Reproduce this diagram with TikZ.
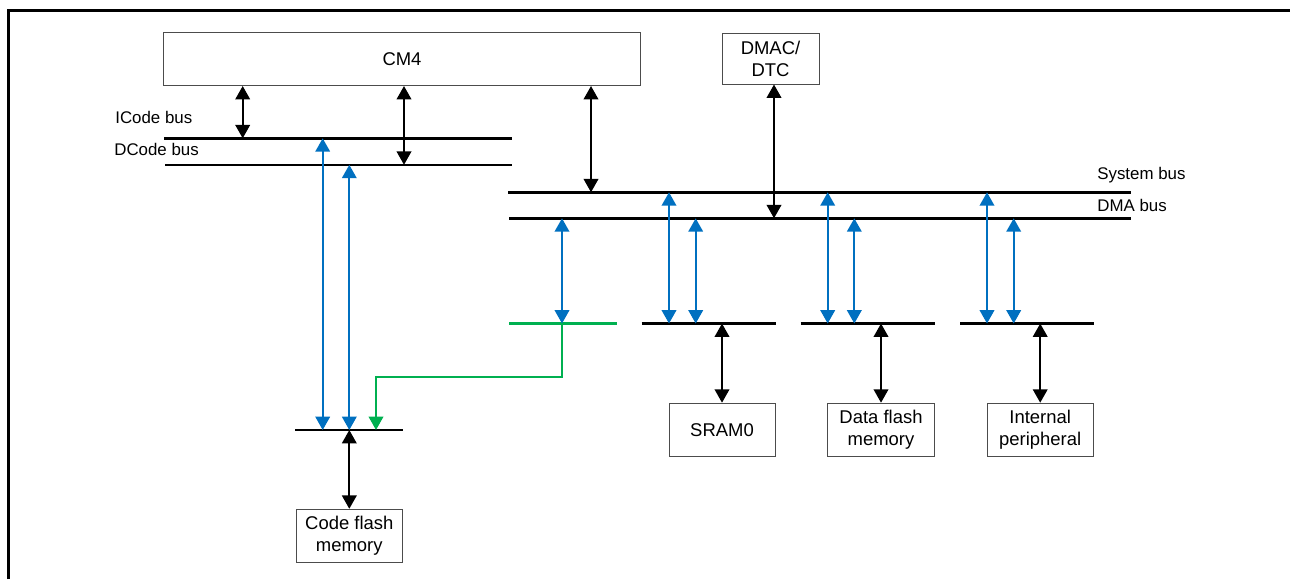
\documentclass[tikz,border=0pt]{standalone}
\usepackage{fontspec}
\setmainfont{Liberation Sans}
\usepackage{xcolor}
\usepackage{tikz}
\usetikzlibrary{arrows.meta, positioning}

\definecolor{busblue}{RGB}{0,112,192}
\definecolor{busgreen}{RGB}{0,176,80}

\begin{document}
\begin{tikzpicture}[
  x=0.02cm, y=-0.02cm,
  unit/.style={
    draw=black!70,
    fill=white,
    line width=0.55pt,
    align=center,
    inner sep=0pt,
    font=\fontsize{10.5}{12.6}\selectfont
  },
  buslabel/.style={
    anchor=west,
    inner sep=0pt,
    font=\fontsize{9.6}{11.5}\selectfont
  },
  bus/.style={line width=1.4pt},
  greenbus/.style={line width=1.4pt, draw=busgreen},
  link/.style={
    line width=1.3pt,
    {Triangle[length=7.6pt,width=8.2pt]}-{Triangle[length=7.6pt,width=8.2pt]}
  },
  bluelink/.style={link, draw=busblue},
  greenlink/.style={
    line width=1.3pt, draw=busgreen,
    -{Triangle[length=7.6pt,width=8.2pt]}
  }
]

\useasboundingbox (0,0) rectangle (1290,579);

% Frame
\draw[line width=1.7pt] (8.7,579) -- (8.7,10.8) -- (1290,10.8);

% -------------------------------------------------------------------
% Masters
% -------------------------------------------------------------------
\node[unit, minimum width=9.56cm, minimum height=1.06cm] (cm4) at (402,59) {CM4};
\node[unit, minimum width=1.94cm, minimum height=1.02cm] (dmac) at (770.5,58.5) {DMAC/\\DTC};

% -------------------------------------------------------------------
% Buses
% -------------------------------------------------------------------
\coordinate (icL) at (164,138.3);  \coordinate (icR) at (512,138.3);
\coordinate (dcL) at (165,164.8);  \coordinate (dcR) at (512,164.8);
\coordinate (sysL) at (508,192.3); \coordinate (sysR) at (1131,192.3);
\coordinate (dmaL) at (509,218.3); \coordinate (dmaR) at (1131,218.3);
\coordinate (cfL) at (295,430);    \coordinate (cfR) at (403,430);
\coordinate (grL) at (509,323.5);  \coordinate (grR) at (617,323.5);
\coordinate (srL) at (641.5,323.5); \coordinate (srR) at (775.5,323.5);
\coordinate (dfL) at (800.5,323.5); \coordinate (dfR) at (935,323.5);
\coordinate (peL) at (960,323.5);  \coordinate (peR) at (1094,323.5);

\draw[bus] (icL) -- (icR);
\draw[bus] (dcL) -- (dcR);
\draw[bus] (sysL) -- (sysR);
\draw[bus] (dmaL) -- (dmaR);
\draw[bus] (cfL) -- (cfR);
\draw[greenbus] (grL) -- (grR);
\draw[bus] (srL) -- (srR);
\draw[bus] (dfL) -- (dfR);
\draw[bus] (peL) -- (peR);

\node[buslabel] (iclabel) at (115,117.5) {ICode bus};
\node[buslabel] (dclabel) at (114,149) {DCode bus};
\node[buslabel] (syslabel) at (1097,175) {System bus};
\node[buslabel] (dmalabel) at (1097,205.5) {DMA bus};

% -------------------------------------------------------------------
% Slaves
% -------------------------------------------------------------------
\node[unit, minimum width=2.12cm, minimum height=1.06cm] (cflash) at (349.3,535.8) {Code flash\\memory};
\node[unit, minimum width=2.12cm, minimum height=1.06cm] (sram) at (722,429.7) {SRAM0};
\node[unit, minimum width=2.13cm, minimum height=1.06cm] (dflash) at (881,429.7) {Data flash\\memory};
\node[unit, minimum width=2.12cm, minimum height=1.06cm] (periph) at (1040.2,429.7) {Internal\\peripheral};

% -------------------------------------------------------------------
% Taps
% -------------------------------------------------------------------
\coordinate (ic1) at (242.7,138.3);
\coordinate (dc1) at (404,164.8);
\coordinate (sys1) at (591,192.3);
\coordinate (dma1) at (774,218.3);
\coordinate (cf1) at (322.7,430);
\coordinate (cf2) at (349.3,430);
\coordinate (cf3) at (376,430);
\coordinate (gr1) at (562,323.5);
\coordinate (sr1) at (669,323.5);
\coordinate (sr2) at (695.7,323.5);
\coordinate (df1) at (827.7,323.5);
\coordinate (df2) at (854.3,323.5);
\coordinate (pe1) at (987,323.5);
\coordinate (pe2) at (1013.7,323.5);

% CM4 and DMAC to the buses
\draw[link] (cm4.south -| ic1) -- (ic1);
\draw[link] (cm4.south -| dc1) -- (dc1);
\draw[link] (cm4.south -| sys1) -- (sys1);
\draw[link] (dmac.south -| dma1) -- (dma1);

% code flash path
\draw[bluelink] (cf1 |- icL) -- (cf1);
\draw[bluelink] (cf2 |- dcL) -- (cf2);
\draw[bluelink] (gr1 |- dmaL) -- (gr1);
\draw[greenlink] (gr1) -- ++(0,53.5) -| (cf3);
\draw[link] (cf2) -- (cflash.north);

% SRAM0
\draw[bluelink] (sr1 |- sysL) -- (sr1);
\draw[bluelink] (sr2 |- dmaL) -- (sr2);
\draw[link] (sram.north |- srL) -- (sram.north);

% data flash
\draw[bluelink] (df1 |- sysL) -- (df1);
\draw[bluelink] (df2 |- dmaL) -- (df2);
\draw[link] (dflash.north |- dfL) -- (dflash.north);

% peripherals
\draw[bluelink] (pe1 |- sysL) -- (pe1);
\draw[bluelink] (pe2 |- dmaL) -- (pe2);
\draw[link] (periph.north |- peL) -- (periph.north);

\end{tikzpicture}
\end{document}
